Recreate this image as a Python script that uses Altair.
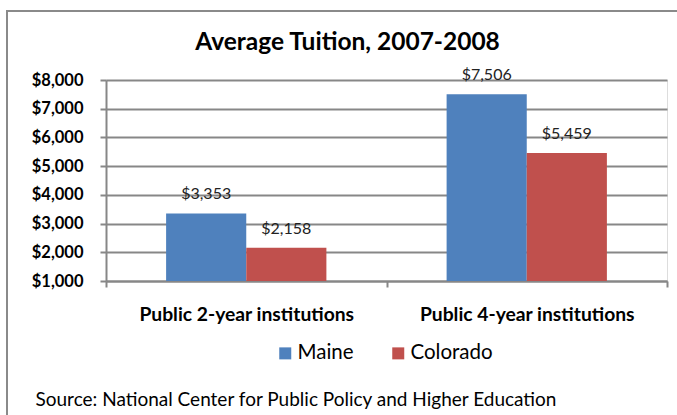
import altair as alt
import pandas as pd

categories = ["Public 2-year institutions", "Public 4-year institutions"]
states = ["Maine", "Colorado"]
maine_values = [3353, 7506]
colorado_values = [2158, 5459]
colors = ["#4F81BD", "#C0504D"]
y_ticks = [1000, 2000, 3000, 4000, 5000, 6000, 7000, 8000]
title_text = "Average Tuition, 2007-2008"
source_text = "Source: National Center for Public Policy and Higher Education"

rows = []
for i, c in enumerate(categories):
    rows.append({"cat": c, "state": "Maine", "value": maine_values[i]})
    rows.append({"cat": c, "state": "Colorado", "value": colorado_values[i]})
df = pd.DataFrame(rows)

FONT = "Lato"
GRID = "#878787"

base = alt.Chart(df).encode(
    x=alt.X(
        "cat:N",
        sort=categories,
        scale=alt.Scale(paddingInner=0, paddingOuter=0),
        axis=alt.Axis(
            title=source_text,
            titleFont=FONT,
            titleFontSize=19,
            titleFontWeight="normal",
            titleColor="#000000",
            titleAlign="left",
            titleBaseline="middle",
            titleX=-71,
            titleY=118,
            labelAngle=0,
            labelFont=FONT,
            labelFontSize=19.3,
            labelFontWeight="bold",
            labelColor="#000000",
            labelPadding=18,
            labelLimit=0,
            tickBand="extent",
            tickColor=GRID,
            tickWidth=2,
            tickSize=6,
            domainColor=GRID,
            domainWidth=2,
            grid=False,
        ),
    ),
    xOffset=alt.XOffset(
        "state:N", sort=states, scale=alt.Scale(paddingInner=0, paddingOuter=0.75)
    ),
    y=alt.Y(
        "value:Q",
        scale=alt.Scale(domain=[1000, 8000], nice=False, zero=False),
        axis=alt.Axis(
            title=None,
            values=y_ticks,
            format="$,.0f",
            labelFont=FONT,
            labelFontSize=16.5,
            labelFontWeight="bold",
            labelColor="#000000",
            labelPadding=17,
            tickColor=GRID,
            tickWidth=2,
            tickSize=6,
            domainColor=GRID,
            domainWidth=2,
            gridColor=GRID,
            gridWidth=2,
        ),
    ),
)

bars = base.mark_bar().encode(
    y2=alt.datum(1000),
    color=alt.Color(
        "state:N",
        sort=states,
        scale=alt.Scale(domain=states, range=colors),
        legend=alt.Legend(
            title=None,
            orient="none",
            legendX=169,
            legendY=263,
            direction="horizontal",
            symbolType="square",
            symbolSize=144,
            symbolStrokeWidth=0,
            labelFont=FONT,
            labelFontSize=20.5,
            labelColor="#000000",
            labelOffset=2,
            columnPadding=34,
        ),
    ),
)

labels = base.mark_text(
    baseline="bottom", dy=-11, font=FONT, fontSize=16, color="#222222"
).encode(text=alt.Text("value:Q", format="$,.0f"))

border = alt.Chart(pd.DataFrame({"k": [0]})).mark_rect(
    fillOpacity=0, stroke="#8a8a8a", strokeWidth=2
).encode(
    x=alt.value(-99), x2=alt.value(640), y=alt.value(-69), y2=alt.value(420)
)

chart = (
    alt.layer(border, bars, labels)
    .properties(
        width=561,
        height=201,
        title=alt.Title(
            title_text,
            font=FONT,
            fontSize=24.5,
            fontWeight="bold",
            color="#000000",
            anchor="middle",
            frame="group",
            dx=-39,
            offset=-45,
        ),
        autosize=alt.AutoSizeParams(type="none"),
        padding={"left": 106, "top": 80, "right": 10, "bottom": 134},
    )
    .configure_view(stroke=None)
    .configure(background="white")
)

chart.save("out.html", embed_options={"renderer": "svg", "actions": False})
